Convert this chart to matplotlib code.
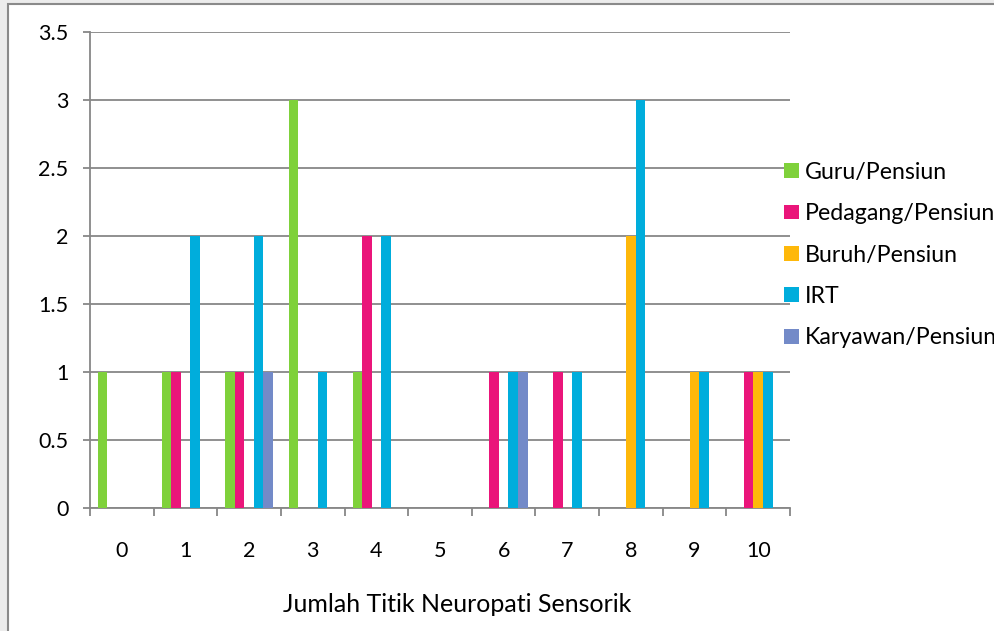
import numpy as np
import matplotlib.pyplot as plt
from matplotlib.patches import Rectangle

plt.rcParams['font.family'] = ['Lato', 'DejaVu Sans']

categories = ['0', '1', '2', '3', '4', '5', '6', '7', '8', '9', '10']
series = ['Guru/Pensiun', 'Pedagang/Pensiun', 'Buruh/Pensiun', 'IRT', 'Karyawan/Pensiun']
guru = [1, 1, 1, 3, 1, 0, 0, 0, 0, 0, 0]
pedagang = [0, 1, 1, 0, 2, 0, 1, 1, 0, 0, 1]
buruh = [0, 0, 0, 0, 0, 0, 0, 0, 2, 1, 1]
irt = [0, 2, 2, 1, 2, 0, 1, 1, 3, 1, 1]
karyawan = [0, 0, 1, 0, 0, 0, 1, 0, 0, 0, 0]
colors = ['#7FD13B', '#EA157A', '#FEB80A', '#00ADDC', '#738AC8']

fig = plt.figure(figsize=(9.95, 6.31), dpi=100, facecolor='#ececec')
# chart area frame
fig.patches.append(Rectangle((8 / 995, -0.01), 1.0, 1 - 4 / 631 + 0.01,
                             transform=fig.transFigure, facecolor='white',
                             edgecolor='#8a8a8a', linewidth=1.5, zorder=-5))

ax = fig.add_axes([90 / 995, 1 - 508 / 631, 700 / 995, 476 / 631])
ax.set_facecolor('none')

x = np.arange(len(categories))
w = 0.15
values = [guru, pedagang, buruh, irt, karyawan]
for i, (name, vals) in enumerate(zip(series, values)):
    ax.bar(x + (i - 2) * w, vals, width=w, color=colors[i], label=name,
           linewidth=0, zorder=3)

ax.set_xlim(-0.5, len(categories) - 0.5)
ax.set_ylim(0, 3.5)
ax.set_yticks(np.arange(0, 3.51, 0.5))
ax.set_yticklabels(['0', '0.5', '1', '1.5', '2', '2.5', '3', '3.5'])
ax.grid(axis='y', color='#878787', linewidth=1.3, zorder=1)

ax.set_xticks(x)
ax.set_xticklabels(categories)
ax.set_xticks(np.arange(-0.5, len(categories)), minor=True)
ax.tick_params(axis='x', which='major', length=0, pad=24, labelsize=15.5)
ax.tick_params(axis='x', which='minor', length=6, width=1.3, color='#878787')
ax.tick_params(axis='y', length=5, width=1.3, color='#878787', pad=10.5, labelsize=15.5)

for s in ['top', 'right']:
    ax.spines[s].set_visible(False)
for s in ['left', 'bottom']:
    ax.spines[s].set_color('#878787')
    ax.spines[s].set_linewidth(1.3)

ax.set_xlabel('Jumlah Titik Neuropati Sensorik', fontsize=18, labelpad=23)
ax.xaxis.label.set_x(0.524)

fig.legend(loc='center left', bbox_to_anchor=(784 / 995, 1 - 255 / 631),
           frameon=False, fontsize=16.7, handlelength=0.65, handleheight=0.6,
           handletextpad=0.26, labelspacing=0.88, borderpad=0, borderaxespad=0)

fig.savefig('out.png', dpi=100, facecolor=fig.get_facecolor())
